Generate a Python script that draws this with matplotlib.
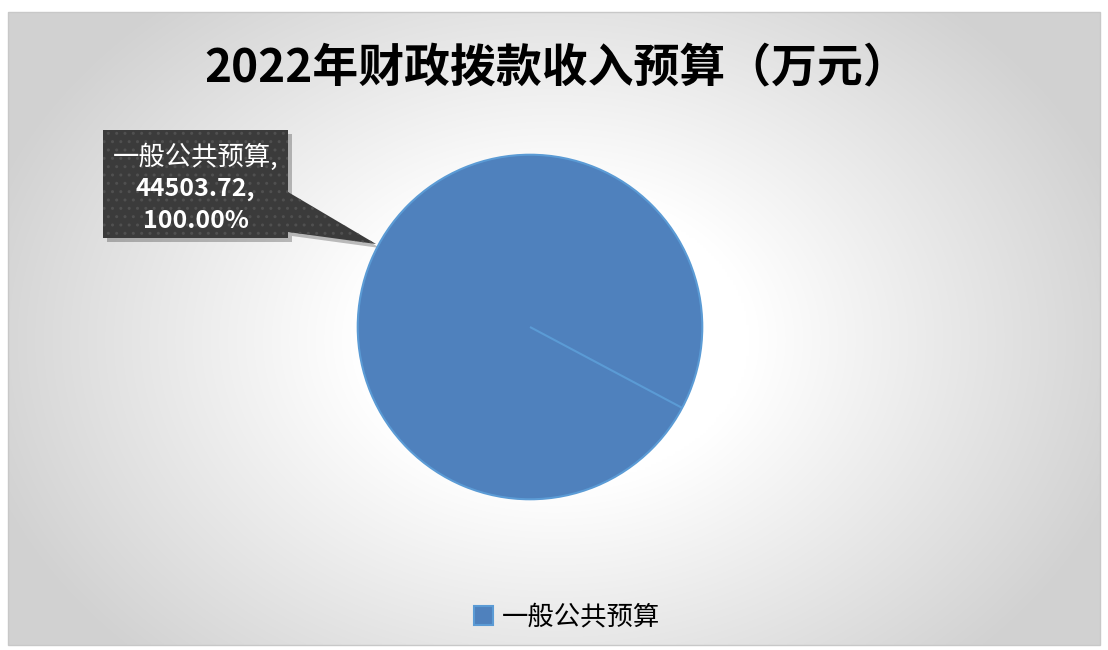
import numpy as np
import matplotlib
matplotlib.use("Agg")
import matplotlib.pyplot as plt
from matplotlib.patches import Polygon, Rectangle

plt.rcParams['font.family'] = ['Noto Sans CJK SC', 'DejaVu Sans']

title = "2022年财政拨款收入预算（万元）"
categories = ["一般公共预算"]
values = [44503.72]
colors = ["#4f81bd"]

W, H = 1108, 650
fig = plt.figure(figsize=(W / 100, H / 100), dpi=100)
fig.patch.set_facecolor("white")

# background axes in pixel coordinates
bg = fig.add_axes([0, 0, 1, 1])
bg.set_xlim(0, W)
bg.set_ylim(H, 0)
bg.axis("off")

x0, x1, y0, y1 = 8, 1100, 12, 645
xx, yy = np.meshgrid(np.linspace(x0, x1, 400), np.linspace(y0, y1, 240))
cx, cy = 555, 340
r = np.sqrt(((xx - cx) / 560.0) ** 2 + ((yy - cy) / 420.0) ** 2)
t = np.clip((r - 0.35) / 0.72, 0, 1)
g = 1.0 - 0.18 * t
img = np.dstack([g, g, g])
bg.imshow(img, extent=[x0, x1, y1, y0], aspect="auto", interpolation="bilinear", zorder=0)
bg.add_patch(Rectangle((x0, y0), x1 - x0, y1 - y0, fill=False, edgecolor="#c8c8c8", lw=1, zorder=1))

bg.text(557, 68, title, ha="center", va="center", fontsize=33, fontweight="bold",
        color="black", zorder=3)

# pie
pcx, pcy, pr = 530, 327, 174
pax = fig.add_axes([(pcx - pr) / W, (H - pcy - pr) / H, 2 * pr / W, 2 * pr / H])
start = -28
wedges, _ = pax.pie(values, colors=colors, startangle=start, counterclock=True,
                    wedgeprops=dict(edgecolor="#5b9bd5", linewidth=1.5))
pax.plot([0, np.cos(np.radians(start))], [0, np.sin(np.radians(start))],
         color="#5b9bd5", lw=1.5, solid_capstyle="butt")
pax.set_xlim(-1.01, 1.01)
pax.set_ylim(-1.01, 1.01)
pax.set_aspect("equal")
pax.axis("off")

# callout
bx0, by0, bx1, by1 = 103, 130, 288, 238
tip = (376, 244)
shape = [(bx0, by0), (bx1, by0), (bx1, 192), tip, (bx1, 232), (bx1, by1), (bx0, by1)]
shadow = [(x + 4, y + 4) for x, y in shape]
bg.add_patch(Polygon(shadow, closed=True, facecolor="#000000", alpha=0.25, edgecolor="none", zorder=4))
bg.add_patch(Polygon(shape, closed=True, facecolor="#3b3b3b", edgecolor="none", zorder=5))
bg.add_patch(Polygon(shape, closed=True, facecolor="none", edgecolor="#505050", hatch="..", lw=0, zorder=6))
total = sum(values)
label_lines = [f"{categories[0]},", f"{values[0]:.2f},", f"{values[0] / total * 100:.2f}%"]
sizes = [19, 18, 18]
for i, (s, yv) in enumerate(zip(label_lines, [157, 189, 221])):
    bg.text((bx0 + bx1) / 2, yv, s, ha="center", va="center", color="white",
            fontsize=sizes[i], fontweight="bold" if i > 0 else "normal", zorder=7)

# legend
fig.legend(wedges, categories, loc="center", bbox_to_anchor=(0.512, (H - 617) / H),
           frameon=False, fontsize=19, handlelength=0.7, handleheight=0.7,
           handletextpad=0.35)

fig.savefig("out.png", dpi=100)
